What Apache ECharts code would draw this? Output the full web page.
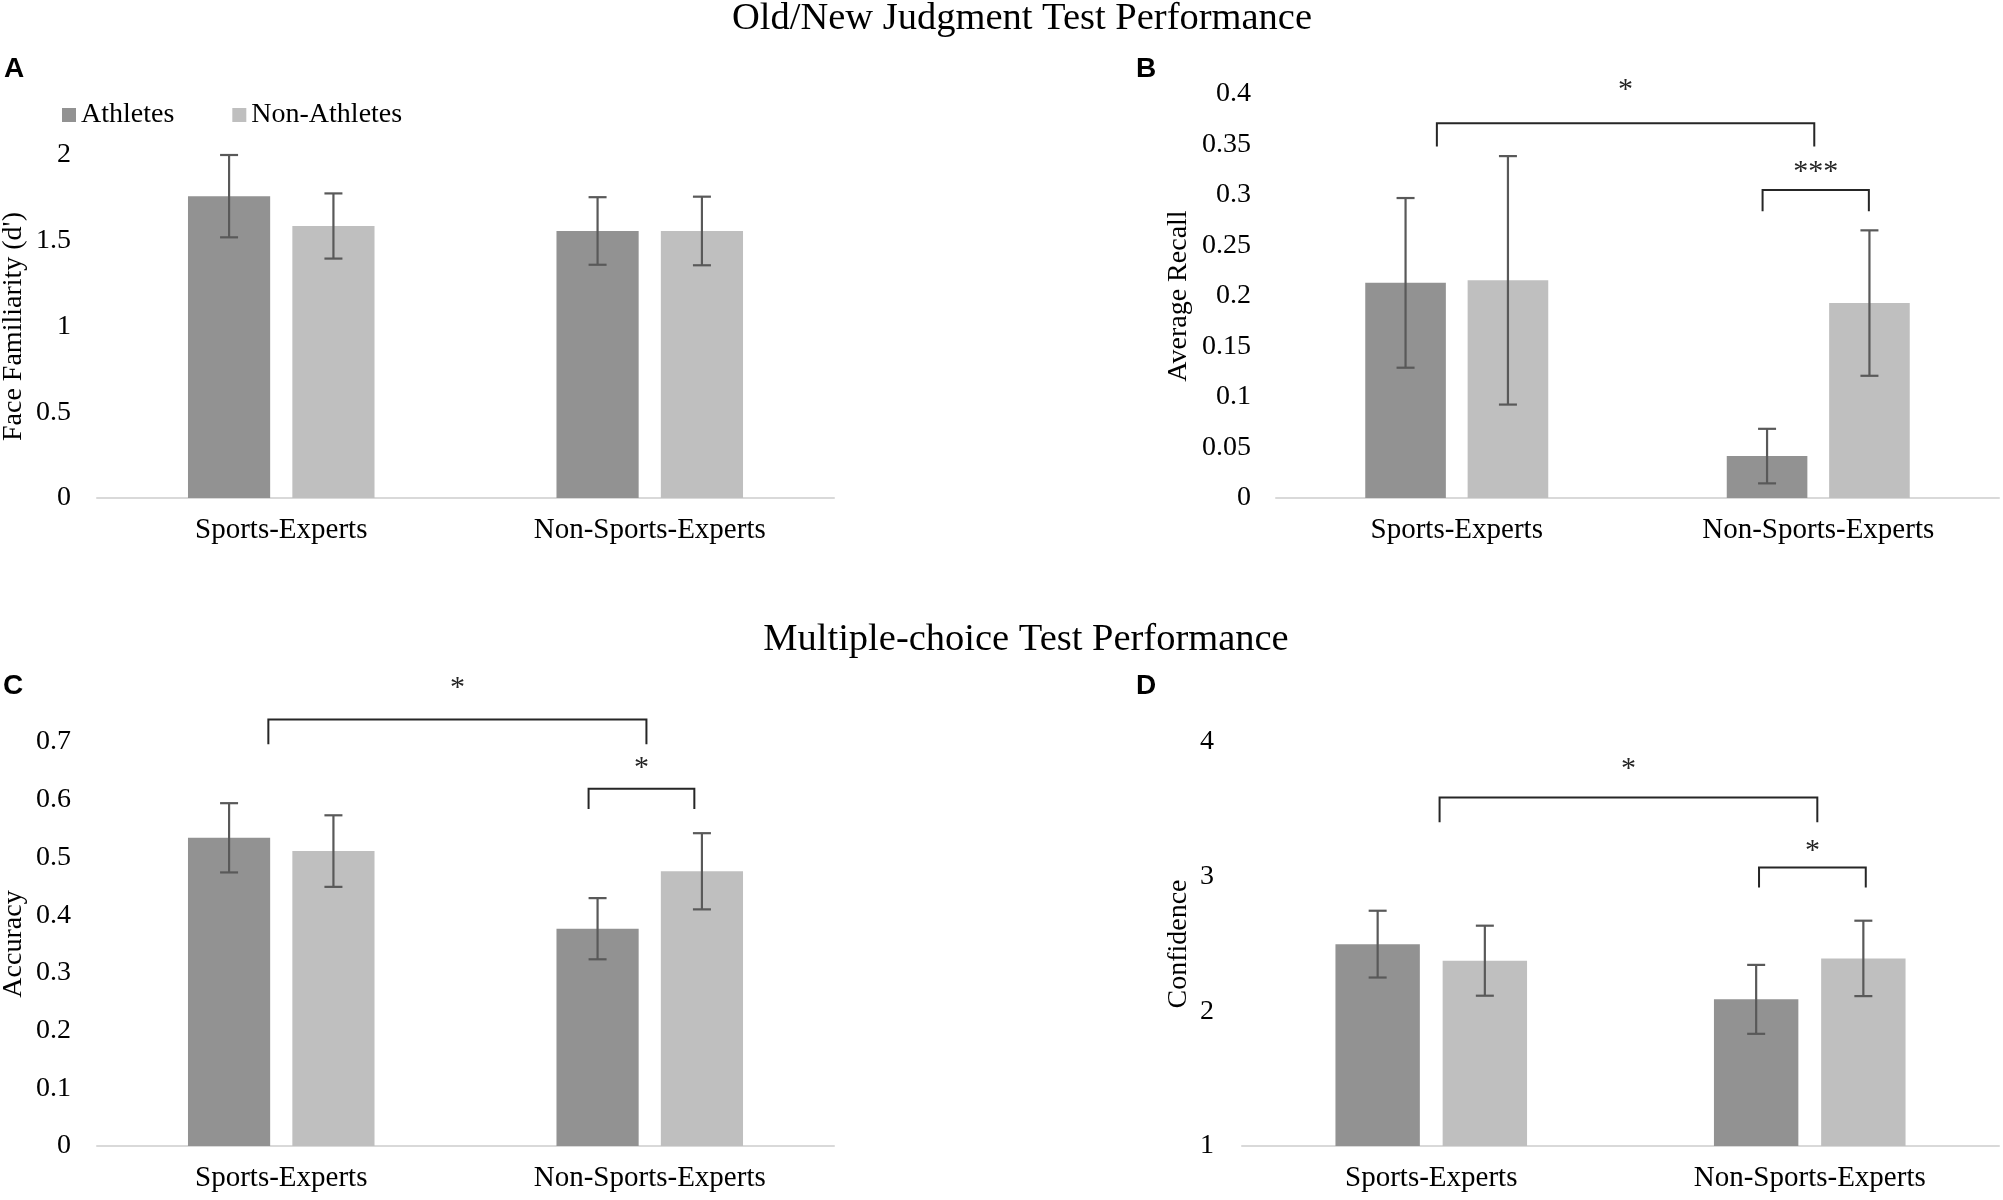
<!DOCTYPE html>
<html>
<head>
<meta charset="utf-8">
<title>Old/New Judgment and Multiple-choice Test Performance</title>
<script src="https://cdn.jsdelivr.net/npm/echarts@6/dist/echarts.min.js"></script>
<style>
  html, body { margin: 0; padding: 0; background: #fff; }
  #main { width: 2003px; height: 1200px; }
</style>
</head>
<body>
<div id="main"></div>
<script type="text/javascript">
// categories and series names
var categories = ['Sports-Experts', 'Non-Sports-Experts'];
var groups = ['Athletes', 'Non-Athletes'];

// A: face familiarity (d')
var famAth = [1.76, 1.557], famAthErr = [0.24, 0.197];
var famNon = [1.586, 1.557], famNonErr = [0.19, 0.2];
// B: average recall
var recAth = [0.213, 0.0415], recAthErr = [0.084, 0.027];
var recNon = [0.2155, 0.193], recNonErr = [0.123, 0.072];
// C: accuracy
var accAth = [0.534, 0.3765], accAthErr = [0.06, 0.053];
var accNon = [0.511, 0.476], accNonErr = [0.062, 0.066];
// D: confidence
var confAth = [2.499, 2.089], confAthErr = [0.248, 0.256];
var confNon = [2.376, 2.393], confNonErr = [0.26, 0.28];

// significance brackets: from/to in category units, y of bar, y of legs, y of star
var recBrackets = [
  { from: -0.055, to: 0.989, y: 0.371, leg: 0.348, star: 0.408, text: '*' },
  { from: 0.846, to: 1.14, y: 0.305, leg: 0.284, star: 0.327, text: '***' }
];
var accBrackets = [
  { from: -0.035, to: 0.991, y: 0.739, leg: 0.696, star: 0.80, text: '*' },
  { from: 0.834, to: 1.121, y: 0.619, leg: 0.584, star: 0.662, text: '*' }
];
var confBrackets = [
  { from: 0.022, to: 1.02, y: 3.588, leg: 3.404, star: 3.83, text: '*' },
  { from: 0.866, to: 1.148, y: 3.068, leg: 2.92, star: 3.216, text: '*' }
];

var serif = 'Liberation Serif, Times New Roman, serif';
var colAth = '#929292', colNon = '#bfbfbf';
var barOff = 0.1416; // bar centre offset from category centre, in bands

var chart = echarts.init(document.getElementById('main'));

function errData(ath, athErr, non, nonErr) {
  var d = [];
  for (var i = 0; i < categories.length; i++) {
    d.push([i, -1, ath[i] - athErr[i], ath[i] + athErr[i]]);
    d.push([i, 1, non[i] - nonErr[i], non[i] + nonErr[i]]);
  }
  return d;
}

function renderErr(params, api) {
  var cat = api.value(0), side = api.value(1);
  var band = api.size([1, 0])[0];
  var x = api.coord([cat, 0])[0] + side * barOff * band;
  var yl = api.coord([cat, api.value(2)])[1];
  var yh = api.coord([cat, api.value(3)])[1];
  var st = { stroke: '#595959', lineWidth: 2.2 };
  var c = 9;
  return {
    type: 'group',
    children: [
      { type: 'line', shape: { x1: x, y1: yl, x2: x, y2: yh }, style: st },
      { type: 'line', shape: { x1: x - c, y1: yl, x2: x + c, y2: yl }, style: st },
      { type: 'line', shape: { x1: x - c, y1: yh, x2: x + c, y2: yh }, style: st }
    ]
  };
}

function bracketData(list) {
  return list.map(function (b) { return [b.from, b.to, b.y, b.leg, b.star, b.text]; });
}

function renderBracket(params, api) {
  var band = api.size([1, 0])[0];
  var x0 = api.coord([0, 0])[0];
  var xa = x0 + api.value(0) * band;
  var xb = x0 + api.value(1) * band;
  var y = api.coord([0, api.value(2)])[1];
  var yLeg = api.coord([0, api.value(3)])[1];
  var yStar = api.coord([0, api.value(4)])[1];
  return {
    type: 'group',
    children: [
      { type: 'polyline', shape: { points: [[xa, yLeg], [xa, y], [xb, y], [xb, yLeg]] }, style: { stroke: '#262626', lineWidth: 2, fill: null } },
      { type: 'text', x: (xa + xb) / 2, y: yStar + 4,
        style: { text: api.value(5), fontFamily: serif, fontSize: 30, fill: '#262626', align: 'center', verticalAlign: 'middle' } }
    ]
  };
}

var grids = [
  { left: 97, right: 1169, top: 155, bottom: 702, outerBoundsMode: 'none' },
  { left: 1276, right: 4, top: 94, bottom: 702, outerBoundsMode: 'none' },
  { left: 97, right: 1169, top: 742, bottom: 54, outerBoundsMode: 'none' },
  { left: 1242, right: 4, top: 742, bottom: 54, outerBoundsMode: 'none' }
];

var yNames = ['Face Familiarity (d\')', 'Average Recall', 'Accuracy', 'Confidence'];
var yMin = [0, 0, 0, 1], yMax = [2, 0.4, 0.7, 4], yInt = [0.5, 0.05, 0.1, 1];
var yGap = [69, 83, 69, 49];
var labelMargin = [26, 25, 26, 28];

var xAxes = [], yAxes = [];
for (var g = 0; g < 4; g++) {
  xAxes.push({
    type: 'category', gridIndex: g, data: categories,
    axisLine: { lineStyle: { color: '#d9d9d9', width: 2 } },
    axisTick: { show: false },
    axisLabel: { fontFamily: serif, fontSize: 29, color: '#000', margin: 18 }
  });
  yAxes.push({
    type: 'value', gridIndex: g, min: yMin[g], max: yMax[g], interval: yInt[g],
    name: yNames[g], nameLocation: 'middle', nameRotate: 90, nameGap: yGap[g],
    nameTextStyle: { fontFamily: serif, fontSize: 28, color: '#000' },
    axisLine: { show: false }, axisTick: { show: false }, splitLine: { show: false },
    axisLabel: { fontFamily: serif, fontSize: 28, color: '#000', margin: labelMargin[g] }
  });
}

var panels = [
  [famAth, famAthErr, famNon, famNonErr, []],
  [recAth, recAthErr, recNon, recNonErr, recBrackets],
  [accAth, accAthErr, accNon, accNonErr, accBrackets],
  [confAth, confAthErr, confNon, confNonErr, confBrackets]
];

var series = [];
panels.forEach(function (p, g) {
  series.push({
    name: groups[0], type: 'bar', xAxisIndex: g, yAxisIndex: g, data: p[0],
    barWidth: '22.3%', barGap: '27%', itemStyle: { color: colAth }
  });
  series.push({
    name: groups[1], type: 'bar', xAxisIndex: g, yAxisIndex: g, data: p[2],
    barWidth: '22.3%', barGap: '27%', itemStyle: { color: colNon }
  });
  series.push({
    type: 'custom', xAxisIndex: g, yAxisIndex: g, renderItem: renderErr,
    data: errData(p[0], p[1], p[2], p[3]), z: 5, silent: true
  });
  if (p[4].length) {
    series.push({
      type: 'custom', xAxisIndex: g, yAxisIndex: g, renderItem: renderBracket,
      data: bracketData(p[4]), z: 5, silent: true, clip: false
    });
  }
});

var letterFont = 'Liberation Sans Narrow, Liberation Sans, sans-serif';
var option = {
  backgroundColor: '#fff',
  animation: false,
  legend: {
    data: groups, left: 57, top: 96, icon: 'rect', itemWidth: 14, itemHeight: 14,
    itemGap: 58,
    textStyle: { fontFamily: serif, fontSize: 28, color: '#000' }
  },
  grid: grids,
  xAxis: xAxes,
  yAxis: yAxes,
  series: series,
  graphic: [
    { type: 'text', x: 1022, y: 19, style: { text: 'Old/New Judgment Test Performance', fontFamily: serif, fontSize: 38.5, fill: '#000', align: 'center', verticalAlign: 'middle' } },
    { type: 'text', x: 1026, y: 640, style: { text: 'Multiple-choice Test Performance', fontFamily: serif, fontSize: 38.5, fill: '#000', align: 'center', verticalAlign: 'middle' } },
    { type: 'text', x: 4, y: 69, style: { text: 'A', fontFamily: letterFont, fontWeight: 'bold', fontSize: 28, fill: '#000', verticalAlign: 'middle' } },
    { type: 'text', x: 1136, y: 69, style: { text: 'B', fontFamily: letterFont, fontWeight: 'bold', fontSize: 28, fill: '#000', verticalAlign: 'middle' } },
    { type: 'text', x: 3, y: 686, style: { text: 'C', fontFamily: letterFont, fontWeight: 'bold', fontSize: 28, fill: '#000', verticalAlign: 'middle' } },
    { type: 'text', x: 1136, y: 686, style: { text: 'D', fontFamily: letterFont, fontWeight: 'bold', fontSize: 28, fill: '#000', verticalAlign: 'middle' } }
  ]
};
chart.setOption(option);
</script>
</body>
</html>
